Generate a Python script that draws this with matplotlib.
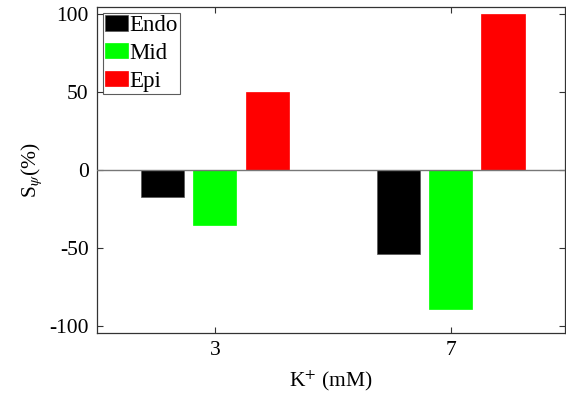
import matplotlib.pyplot as plt
import numpy as np

plt.rcParams['font.family'] = ['Liberation Serif', 'DejaVu Serif']
plt.rcParams['mathtext.fontset'] = 'stix'
plt.rcParams['axes.unicode_minus'] = False

conc = ['3', '7']
endo = [-17, -54]
mid = [-35, -89]
epi = [50, 100]

series = [endo, mid, epi]
names = ['Endo', 'Mid', 'Epi']
colors = ['black', '#00ff00', 'red']

fig = plt.figure(figsize=(5.66, 3.98), dpi=100)
ax = fig.add_axes([97 / 566, 65 / 398, 468 / 566, 326 / 398])

x = np.arange(1, len(conc) + 1)
offset = 0.222
width = 0.183
for i, (vals, name, c) in enumerate(zip(series, names, colors)):
    ax.bar(x + (i - 1) * offset, vals, width, color=c, label=name,
           edgecolor='#555555' if c == 'black' else c, linewidth=0.5, zorder=2)

ax.axhline(0, color='#777777', linewidth=1, zorder=3)

ax.set_xlim(0.5, 2.485)
ax.set_ylim(-104.5, 104.5)
ax.set_xticks(x)
ax.set_xticklabels(conc)
ax.set_yticks([-100, -50, 0, 50, 100])
ax.tick_params(direction='in', top=True, right=True, labelsize=15.5, length=4,
               color='#333333', pad=6)
for s in ax.spines.values():
    s.set_color('#333333')
    s.set_linewidth(0.9)

ax.set_xlabel('K$^{+}$ (mM)', fontsize=15.5, labelpad=6)
ax.set_ylabel(r'S$_{\psi}$(%)', fontsize=15.5, labelpad=4)

leg = ax.legend(loc='upper left', fontsize=16.5, frameon=True, fancybox=False,
                edgecolor='#333333', borderpad=0.1, labelspacing=0.3,
                handlelength=1.0, handleheight=0.65, handletextpad=0.05,
                borderaxespad=0.25)
leg.get_frame().set_linewidth(0.8)

fig.savefig('out.png', dpi=100)
